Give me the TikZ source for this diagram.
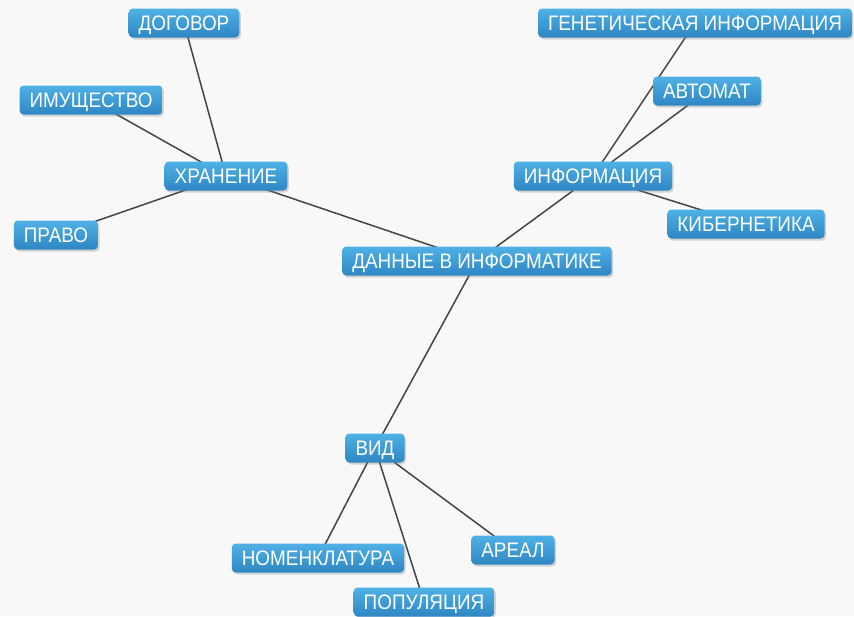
\documentclass[tikz,border=0pt]{standalone}
\usepackage{fontspec}
\setmainfont[FakeStretch=0.9]{Liberation Sans}
\usetikzlibrary{shadows,backgrounds}

\definecolor{boxtop}{HTML}{4FB1E6}
\definecolor{boxbot}{HTML}{2E86C3}
\definecolor{linkgray}{HTML}{454545}
\definecolor{pagebg}{HTML}{F8F8F8}

\tikzset{
	term/.style={rounded corners=4pt, top color=boxtop, bottom color=boxbot,
		text=white, font=\fontsize{21}{21}\selectfont,
		inner xsep=10pt, inner ysep=0pt, minimum height=29pt,
		text height=15pt, text depth=0pt,
		drop shadow={opacity=0.3, shadow xshift=1.5pt, shadow yshift=-2pt}},
	link/.style={draw=linkgray, line width=1.5pt}
}

\begin{document}
\begin{tikzpicture}[x=1pt, y=-1pt]
\useasboundingbox (0,0) rectangle (854,616);
\path
	(477,261) node [term] (data) {ДАННЫЕ В ИНФОРМАТИКЕ}
	(226,176) node [term] (store) {ХРАНЕНИЕ}
	(184,23) node [term] (contract) {ДОГОВОР}
	(91,100) node [term] (property) {ИМУЩЕСТВО}
	(56,235) node [term] (law) {ПРАВО}
	(593,176) node [term] (info) {ИНФОРМАЦИЯ}
	(695,23) node [term] (genetic) {ГЕНЕТИЧЕСКАЯ ИНФОРМАЦИЯ}
	(707,91) node [term] (automat) {АВТОМАТ}
	(746,224) node [term] (cyber) {КИБЕРНЕТИКА}
	(375,448) node [term] (kind) {ВИД}
	(318,558) node [term] (nomen) {НОМЕНКЛАТУРА}
	(513,550) node [term] (areal) {АРЕАЛ}
	(424,602) node [term] (popul) {ПОПУЛЯЦИЯ};
% links behind the boxes
\begin{scope}[on background layer]
\fill [pagebg] (0,0) rectangle (854,616);
\draw [link] (data.center) -- (store.center);
\draw [link] (data.center) -- (info.center);
\draw [link] (data.center) -- (kind.center);
\draw [link] (store.center) -- (contract.center);
\draw [link] (store.center) -- (property.center);
\draw [link] (store.center) -- (law.center);
\draw [link] (info.center) -- (genetic.center);
\draw [link] (info.center) -- (automat.center);
\draw [link] (info.center) -- (cyber.center);
\draw [link] (kind.center) -- (nomen.center);
\draw [link] (kind.center) -- (areal.center);
\draw [link] (kind.center) -- (popul.center);
\end{scope}
\end{tikzpicture}
\end{document}
